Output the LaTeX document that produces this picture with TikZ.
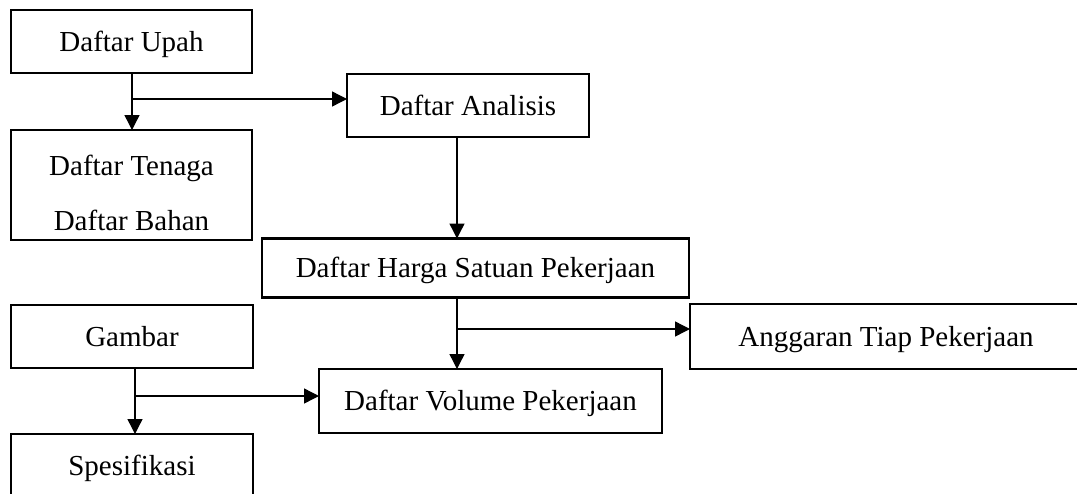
\documentclass[tikz,border=0pt]{standalone}
\usepackage{fontspec}
\setmainfont{Liberation Serif}
\usetikzlibrary{arrows.meta}
\begin{document}
\begin{tikzpicture}[x=1pt,y=-1pt,
  box/.style={draw=black, line width=2.8pt, rectangle, inner sep=0pt, outer sep=0pt,
    font=\fontsize{29}{34}\selectfont, text height=19pt, text depth=0pt, anchor=center},
  lbl/.style={inner sep=0pt, font=\fontsize{29}{34}\selectfont, anchor=base},
  conn/.style={draw=black, line width=1.4pt},
  arr/.style={conn, -{Triangle[length=15pt,width=15pt]}}]
\useasboundingbox (0,0) rectangle (1077,493);
\clip (0,0) rectangle (1077,493);
\fill[white] (0,0) rectangle (1077,493);

% boxes
\node[box, minimum width=241pt, minimum height=63pt] (upah) at (131.5,41.5) {Daftar Upah};
\node[box, minimum width=242pt, minimum height=63pt] (analisis) at (468,105.5) {Daftar Analisis};
\node[box, minimum width=241pt, minimum height=110pt] (tenaga) at (131.5,185) {};
\node[lbl] (tenagatxt) at (131.5,175.5) {Daftar Tenaga};
\node[lbl] (bahantxt) at (131.5,230.5) {Daftar Bahan};
\node[box, minimum width=427pt, minimum height=59pt] (harga) at (475.5,268) {Daftar Harga Satuan Pekerjaan};
\node[box, minimum width=242pt, minimum height=63pt] (gambar) at (132,336.5) {Gambar};
\node[box, minimum width=392pt, minimum height=65pt] (anggaran) at (886,336.5) {Anggaran Tiap Pekerjaan};
\node[box, minimum width=343pt, minimum height=64pt] (volume) at (490.5,401) {Daftar Volume Pekerjaan};
\node[box, minimum width=242pt, minimum height=63pt] (spesifikasi) at (132,465.5) {Spesifikasi};

% junction points
\coordinate (j1) at (132,99);
\coordinate (j2) at (457,329);
\coordinate (j3) at (135,396);

% connectors
\draw[arr] (upah.south -| j1) -- (tenaga.north -| j1);
\draw[arr] (j1) -- (j1 -| analisis.west);
\draw[arr] (analisis.south -| j2) -- (harga.north -| j2);
\draw[arr] (harga.south -| j2) -- (volume.north -| j2);
\draw[arr] (j2) -- (j2 -| anggaran.west);
\draw[arr] (gambar.south -| j3) -- (spesifikasi.north -| j3);
\draw[arr] (j3) -- (j3 -| volume.west);
\end{tikzpicture}
\end{document}
